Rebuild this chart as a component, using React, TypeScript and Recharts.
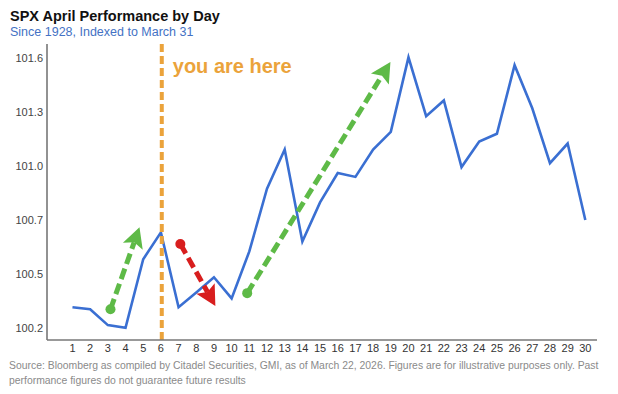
import React from 'react';
import { LineChart, Line, XAxis, YAxis, ReferenceLine } from 'recharts';

// ---- data ----
const days = [1, 2, 3, 4, 5, 6, 7, 8, 9, 10, 11, 12, 13, 14, 15, 16, 17, 18, 19, 20, 21, 22, 23, 24, 25, 26, 27, 28, 29, 30];
const spxIndex = [
  100.295, 100.285, 100.204, 100.19, 100.54, 100.677, 100.295, 100.37, 100.448, 100.34,
  100.58, 100.9, 101.1, 100.63, 100.83, 100.98, 100.96, 101.1, 101.19, 101.57,
  101.27, 101.35, 101.01, 101.14, 101.18, 101.53, 101.31, 101.03, 101.13, 100.74,
];
const xTicks = days;
const yTicks = [100.19, 100.465, 100.74, 101.015, 101.29, 101.565];
const yTickLabels = ['100.2', '100.5', '100.7', '101.0', '101.3', '101.6'];
const youAreHereDay = 6.05;
const youAreHereText = 'you are here';
// annotation arrows: [startDay, startValue, endDay, endValue]
const arrowUp1 = [3.15, 100.285, 4.79, 100.703];
const arrowDown = [7.1, 100.618, 9.08, 100.302];
const arrowUp2 = [10.88, 100.367, 18.98, 101.546];

const titleText = 'SPX April Performance by Day';
const subtitleText = 'Since 1928, Indexed to March 31';
const footerLines = [
  'Source: Bloomberg as compiled by Citadel Securities, GMI, as of March 22, 2026. Figures are for illustrative purposes only. Past',
  'performance figures do not guarantee future results',
];

const data = days.map((d, i) => ({ day: d, value: spxIndex[i] }));

const FONT = '"Liberation Sans", Arial, sans-serif';
const GREEN = '#5EBA47';
const RED = '#D81E1E';
const ORANGE = '#EBA33B';
const BLUE = '#3A6FD2';

const makeArrowShape = (color: string) => (props: any) => {
  const { x1, y1, x2, y2 } = props;
  const dx = x2 - x1;
  const dy = y2 - y1;
  const len = Math.hypot(dx, dy) || 1;
  const ux = dx / len;
  const uy = dy / len;
  const head = 20;
  const half = 10.5;
  const bx = x2 - ux * head;
  const by = y2 - uy * head;
  const px = -uy;
  const py = ux;
  const nx = bx + ux * 4;
  const ny = by + uy * 4;
  return (
    <g>
      <line x1={x1} y1={y1} x2={nx} y2={ny} stroke={color} strokeWidth={5} strokeDasharray="11 5" />
      <circle cx={x1} cy={y1} r={5} fill={color} />
      <polygon
        points={`${x2},${y2} ${bx + px * half},${by + py * half} ${nx},${ny} ${bx - px * half},${by - py * half}`}
        fill={color}
      />
    </g>
  );
};

const seg = (a: number[]) => [
  { x: a[0], y: a[1] },
  { x: a[2], y: a[3] },
];

const YouAreHereLabel = (props: any) => {
  const vb = props.viewBox || {};
  return (
    <text x={(vb.x ?? 0) + 11} y={(vb.y ?? 0) + 29} fill={ORANGE} fontSize={20} fontWeight="bold" fontFamily={FONT}>
      {youAreHereText}
    </text>
  );
};

export default function App() {
  return (
    <div style={{ position: 'absolute', left: 0, top: 0, width: 618, height: 394, background: '#fff' }}>
      <svg width={618} height={394} style={{ position: 'absolute', left: 0, top: 0 }}>
        <text x={10} y={21} fontFamily={FONT} fontWeight="bold" fontSize={14.5} fill="#111">
          {titleText}
        </text>
        <text x={10} y={35.5} fontFamily={FONT} fontSize={12.5} fill="#4472C4">
          {subtitleText}
        </text>
        {footerLines.map((t, i) => (
          <text key={i} x={9} y={369 + i * 15} fontFamily={FONT} fontSize={10.4} fill="#8a8a8a">
            {t}
          </text>
        ))}
      </svg>
      <div style={{ position: 'absolute', left: 0, top: 0 }}>
        <LineChart width={618} height={394} data={data} margin={{ top: 44, right: 21, bottom: 24, left: 7 }}>
          <XAxis
            type="number"
            dataKey="day"
            domain={[-0.44, 30.66]}
            allowDataOverflow
            ticks={xTicks}
            interval={0}
            tickLine={false}
            tickSize={2}
            tickMargin={2}
            height={30}
            axisLine={{ stroke: '#777', strokeWidth: 1.6 }}
            tick={{ fontSize: 11, fill: '#333', fontFamily: FONT }}
          />
          <YAxis
            type="number"
            domain={[100.128, 101.638]}
            allowDataOverflow
            ticks={yTicks}
            interval={0}
            width={40}
            tickLine={false}
            tickSize={2}
            tickMargin={2}
            axisLine={{ stroke: '#777', strokeWidth: 1.6 }}
            tickFormatter={(v: number) => {
              const i = yTicks.indexOf(v);
              return i >= 0 ? yTickLabels[i] : String(v);
            }}
            tick={{ fontSize: 11, fill: '#444', fontFamily: FONT }}
          />
          <Line
            type="linear"
            dataKey="value"
            stroke={BLUE}
            strokeWidth={2.6}
            dot={false}
            activeDot={false}
            isAnimationActive={false}
          />
          <ReferenceLine
            x={youAreHereDay}
            stroke={ORANGE}
            strokeWidth={4}
            strokeDasharray="8 4"
            label={YouAreHereLabel}
          />
          <ReferenceLine segment={seg(arrowUp1)} shape={makeArrowShape(GREEN)} />
          <ReferenceLine segment={seg(arrowDown)} shape={makeArrowShape(RED)} />
          <ReferenceLine segment={seg(arrowUp2)} shape={makeArrowShape(GREEN)} />
        </LineChart>
      </div>
    </div>
  );
}
